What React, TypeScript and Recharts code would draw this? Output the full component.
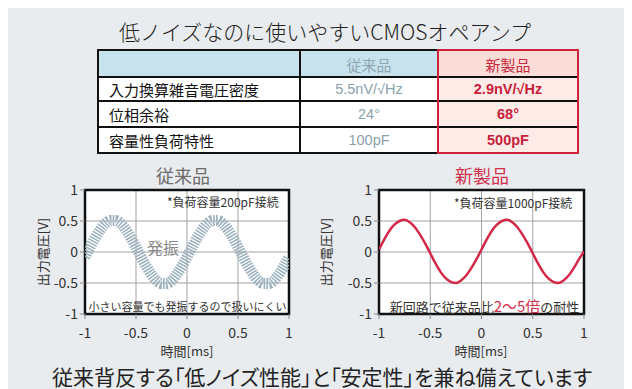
import React from 'react';
import { LineChart, Line, XAxis, YAxis, CartesianGrid, ReferenceArea } from 'recharts';

const timeTicks = [-1, -0.5, 0, 0.5, 1];
const voltTicks = [-1, -0.5, 0, 0.5, 1];

// shared time samples [ms]
const sampleTime = [
  -1, -0.95, -0.9, -0.85, -0.8, -0.75, -0.7, -0.65, -0.6, -0.55,
  -0.5, -0.45, -0.4, -0.35, -0.3, -0.25, -0.2, -0.15, -0.1, -0.05,
  0, 0.05, 0.1, 0.15, 0.2, 0.25, 0.3, 0.35, 0.4, 0.45,
  0.5, 0.55, 0.6, 0.65, 0.7, 0.75, 0.8, 0.85, 0.9, 0.95,
  1,
];
// 従来品: centre of the oscillating trace (drawn with a ringing texture)
const oldVolt = [
  -0.08, 0.08, 0.23, 0.36, 0.46, 0.51, 0.51, 0.46, 0.36, 0.23,
  0.08, -0.08, -0.23, -0.36, -0.46, -0.51, -0.51, -0.46, -0.36, -0.23,
  -0.08, 0.08, 0.23, 0.36, 0.46, 0.51, 0.51, 0.46, 0.36, 0.23,
  0.08, -0.08, -0.23, -0.36, -0.46, -0.51, -0.51, -0.46, -0.36, -0.23,
  -0.08,
];
// 新製品: clean sine output
const newVolt = [
  0.04, 0.20, 0.34, 0.44, 0.50, 0.52, 0.48, 0.40, 0.28, 0.14,
  -0.02, -0.18, -0.32, -0.42, -0.48, -0.50, -0.46, -0.38, -0.26, -0.12,
  0.04, 0.20, 0.34, 0.44, 0.50, 0.52, 0.48, 0.40, 0.28, 0.14,
  -0.02, -0.18, -0.32, -0.42, -0.48, -0.50, -0.46, -0.38, -0.26, -0.12,
  0.01,
];

const rowLabels = ['入力換算雑音電圧密度', '位相余裕', '容量性負荷特性'];
const oldSpecs = ['5.5nV/√Hz', '24°', '100pF'];
const newSpecs = ['2.9nV/√Hz', '68°', '500pF'];

const JP = "'Noto Sans CJK JP', 'Noto Sans', sans-serif";
const ARIAL = "'Liberation Sans', Arial, sans-serif";

const oldData = sampleTime.map((t, i) => ({ t, v: oldVolt[i] }));
const newData = sampleTime.map((t, i) => ({ t, v: newVolt[i] }));

type TProps = {
  x: number; y: number; size: number; color?: string; weight?: number | string;
  family?: string; anchor?: 'center' | 'left'; rotate?: boolean; palt?: boolean; children: React.ReactNode;
};
const T = ({ x, y, size, color = '#222', weight = 400, family = JP, anchor = 'center', rotate = false, palt = false, children }: TProps) => (
  <div
    style={{
      position: 'absolute', left: x, top: y, fontSize: size, color, fontWeight: weight,
      fontFamily: family, whiteSpace: 'nowrap', lineHeight: 1,
      fontFeatureSettings: palt ? '"palt"' : 'normal',
      transform: (anchor === 'center' ? 'translate(-50%,-50%)' : 'translate(0,-50%)') + (rotate ? ' rotate(-90deg)' : ''),
    }}
  >
    {children}
  </div>
);

const tickStyle = { fontSize: 14, fill: '#333', fontFamily: JP };

type WaveProps = { data: { t: number; v: number }[]; color: string; width: number; dash?: string; right: number };
const Wave = ({ data, color, width, dash, right }: WaveProps) => (
  <LineChart width={310} height={200} data={data} margin={{ top: 30, right, bottom: 16, left: 0 }}>
    <CartesianGrid fill="#fff" stroke="#a3a3a3" strokeWidth={1} />
    <XAxis
      type="number" dataKey="t" domain={[-1, 1]} ticks={timeTicks} allowDataOverflow
      height={30} tickSize={5} tickMargin={9} axisLine={false}
      tickLine={{ stroke: '#888' }} tick={tickStyle} interval={0}
    />
    <YAxis
      type="number" domain={[-1, 1]} ticks={voltTicks} allowDataOverflow
      width={77} tickSize={5} tickMargin={2} axisLine={false}
      tickLine={{ stroke: '#888' }} tick={tickStyle} interval={0}
    />
    <Line dataKey="v" type="monotone" stroke={color} strokeWidth={width} strokeDasharray={dash} dot={false} isAnimationActive={false} />
    <ReferenceArea x1={-1} x2={1} y1={-1} y2={1} fill="none" fillOpacity={0} stroke="#111" strokeWidth={2.5} ifOverflow="visible" />
  </LineChart>
);

const colX = [90, 292, 430, 570];
const rowY = [42, 69, 93, 119, 145];

export default function App() {
  const cells: React.ReactNode[] = [];
  cells.push(<div key="h0" style={{ position: 'absolute', left: colX[0], top: rowY[0], width: colX[2] - colX[0], height: rowY[1] - rowY[0], background: '#c8e2ed' }} />);
  cells.push(<div key="h2" style={{ position: 'absolute', left: colX[2], top: rowY[0], width: colX[3] - colX[2], height: rowY[1] - rowY[0], background: '#fadcd8' }} />);
  cells.push(<div key="b0" style={{ position: 'absolute', left: colX[0], top: rowY[1], width: colX[2] - colX[0], height: rowY[4] - rowY[1], background: '#fff' }} />);
  cells.push(<div key="b2" style={{ position: 'absolute', left: colX[2], top: rowY[1], width: colX[3] - colX[2], height: rowY[4] - rowY[1], background: '#fdebe8' }} />);
  rowY.forEach((y, i) => cells.push(
    <div key={'hl' + i} style={{ position: 'absolute', left: colX[0] - 1, top: y - 1, width: colX[3] - colX[0] + 2, height: 2, background: '#111' }} />
  ));
  colX.forEach((x, i) => cells.push(
    <div key={'vl' + i} style={{ position: 'absolute', left: x - 1, top: rowY[0] - 1, width: 2, height: rowY[4] - rowY[0] + 2, background: '#111' }} />
  ));
  cells.push(<div key="red" style={{ position: 'absolute', left: colX[2] - 1, top: rowY[0] - 1, width: colX[3] - colX[2] + 2, height: rowY[4] - rowY[0] + 2, border: '2px solid #d0213b', boxSizing: 'border-box' }} />);

  const mid = (a: number, b: number) => (a + b) / 2;

  return (
    <div style={{ position: 'relative', width: 624, height: 381, background: '#e9ecef', overflow: 'hidden', fontFamily: JP }}>
      <T x={317} y={23} size={21} color="#222" weight={300}>低ノイズなのに使いやすいCMOSオペアンプ</T>

      {cells}
      <T x={mid(colX[1], colX[2])} y={mid(rowY[0], rowY[1])} size={15} color="#8ea6b1">従来品</T>
      <T x={mid(colX[2], colX[3])} y={mid(rowY[0], rowY[1])} size={15} color="#c8283c">新製品</T>
      {rowLabels.map((l, i) => (
        <T key={'rl' + i} x={colX[0] + 11} y={mid(rowY[i + 1], rowY[i + 2])} size={15} color="#111" anchor="left">{l}</T>
      ))}
      {oldSpecs.map((s, i) => (
        <T key={'os' + i} x={mid(colX[1], colX[2])} y={mid(rowY[i + 1], rowY[i + 2])} size={14.5} color="#8ba1ab" family={ARIAL}>{s}</T>
      ))}
      {newSpecs.map((s, i) => (
        <T key={'ns' + i} x={mid(colX[2], colX[3])} y={mid(rowY[i + 1], rowY[i + 2])} size={14.5} color="#c81e3a" weight={700} family={ARIAL}>{s}</T>
      ))}

      <div style={{ position: 'absolute', left: 0, top: 152 }}>
        <Wave data={oldData} color="#9ab1bc" width={11} dash="1.6 1.2" right={29} />
      </div>
      <div style={{ position: 'absolute', left: 294, top: 152 }}>
        <Wave data={newData} color="#d42a48" width={2.5} right={28} />
      </div>

      <T x={175} y={167} size={18} color="#6b6b6b">従来品</T>
      <T x={474} y={167} size={18} color="#d0304a">新製品</T>

      <T x={34} y={244} size={13} color="#333" rotate>出力電圧[V]</T>
      <T x={317} y={244} size={13} color="#333" rotate>出力電圧[V]</T>
      <T x={179} y={342} size={13} color="#333">時間[ms]</T>
      <T x={473} y={342} size={13} color="#333">時間[ms]</T>

      <T x={159} y={194} size={12} color="#333" anchor="left">*負荷容量200pF接続</T>
      <T x={139} y={239} size={16} color="#8a8a8a" anchor="left">発振</T>
      <T x={179.5} y={298} size={11} color="#333">小さい容量でも発振するので扱いにくい</T>

      <T x={446} y={195} size={12} color="#333" anchor="left">*負荷容量1000pF接続</T>
      <T x={476.5} y={297} size={13} color="#333">
        新回路で従来品比<span style={{ color: '#d0304a', fontSize: 15 }}>2〜5倍</span>の耐性
      </T>

      <T x={314} y={368} size={21} color="#222" palt>従来背反する「低ノイズ性能」と「安定性」を兼ね備えています</T>
    </div>
  );
}
